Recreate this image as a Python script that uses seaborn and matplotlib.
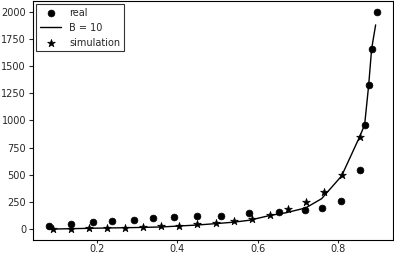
import matplotlib
matplotlib.use("Agg")
import matplotlib.pyplot as plt
import seaborn as sns

# measured points
real_x = [0.080, 0.135, 0.190, 0.237, 0.292, 0.340, 0.392, 0.449, 0.509, 0.579,
          0.653, 0.718, 0.760, 0.808, 0.855, 0.8675, 0.8775, 0.885, 0.8975]
real_y = [27, 46, 64, 75, 85, 100, 110, 119, 119, 146,
          155, 173, 192, 255, 547, 958, 1323, 1661, 2000]

# simulated points
sim_x = [0.090, 0.135, 0.180, 0.225, 0.270, 0.315, 0.360, 0.405, 0.450,
         0.495, 0.540, 0.585, 0.630, 0.675, 0.720, 0.765, 0.810, 0.855]
sim_y = [0, 2, 9, 9, 9, 18, 27, 27, 46,
         55, 73, 91, 128, 182, 246, 338, 502, 849]

# B = 10 curve
line_x = [0.08, 0.20, 0.30, 0.36, 0.45, 0.50, 0.54, 0.58, 0.63, 0.67,
          0.72, 0.76, 0.81, 0.855, 0.8675, 0.8775, 0.885, 0.895]
line_y = [0, 9, 15, 20, 38, 52, 64, 82, 125, 150,
          195, 280, 490, 850, 960, 1320, 1660, 1880]

sns.set_style("ticks")
plt.rcParams["font.family"] = ["DejaVu Sans"]
plt.rcParams["font.size"] = 7

fig, ax = plt.subplots(figsize=(3.94, 2.56), dpi=100)
fig.subplots_adjust(left=33 / 394, right=393 / 394, top=1 - 1 / 256, bottom=1 - 240 / 256)

sns.scatterplot(x=real_x, y=real_y, ax=ax, color="black", marker="o", s=24,
                edgecolor="black", linewidth=0.5, label="real")
sns.lineplot(x=line_x, y=line_y, ax=ax, color="black", linewidth=1.0, label="B = 10")
sns.scatterplot(x=sim_x, y=sim_y, ax=ax, color="black", marker="*", s=34,
                edgecolor="black", linewidth=0.5, label="simulation")

ax.set_xticks([0.2, 0.4, 0.6, 0.8])
ax.set_yticks(range(0, 2001, 250))
ax.tick_params(axis="y", labelsize=7, length=3, width=0.8, pad=2)
ax.tick_params(axis="x", labelsize=7, length=2, width=0.8, pad=1)
for side in ax.spines.values():
    side.set_linewidth(0.8)
    side.set_color("black")

leg = ax.legend(loc="upper left", fontsize=7, frameon=True, fancybox=False,
                edgecolor="black", borderaxespad=0.3, handlelength=2.2)
leg.get_frame().set_linewidth(0.8)

fig.savefig("out.png", dpi=100)
